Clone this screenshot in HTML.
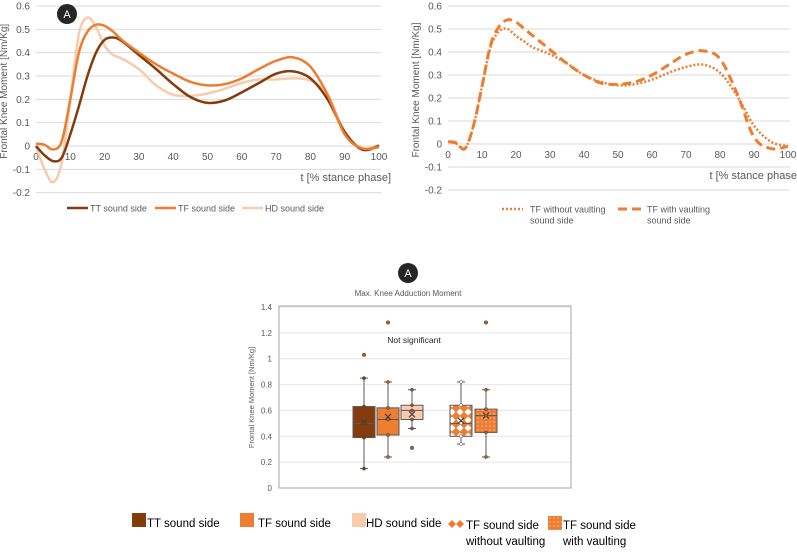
<!DOCTYPE html>
<html><head><meta charset="utf-8"><style>
body{margin:0;background:#fff;width:797px;height:550px;overflow:hidden;font-family:"Liberation Sans",Arial,sans-serif}
svg text{font-family:"Liberation Sans",Arial,sans-serif}
</style></head><body>
<svg id="s" width="797" height="550">
<defs>
<pattern id="diam" width="8" height="8" patternUnits="userSpaceOnUse"><rect width="8" height="8" fill="#ed7d31"/><path d="M4 0.5L7.5 4L4 7.5L0.5 4Z" fill="#fff"/></pattern>
<pattern id="dots" width="4" height="4" patternUnits="userSpaceOnUse"><rect width="4" height="4" fill="#ed7d31"/><circle cx="2" cy="2" r="0.6" fill="#fde"/></pattern>
</defs>
</svg>
<script>
const xs=[0,2.5,5,7.5,10,12.5,15,17.5,20,22.5,25,30,35,40,45,50,55,60,65,70,75,80,85,90,95,100];
const ttVals=[0,-0.04,-0.065,-0.05,0.05,0.17,0.3,0.4,0.455,0.465,0.45,0.39,0.33,0.265,0.21,0.185,0.195,0.23,0.27,0.31,0.32,0.29,0.2,0.06,-0.015,0];
const tfVals=[0.01,0.005,-0.015,0.02,0.2,0.4,0.49,0.52,0.515,0.49,0.455,0.4,0.35,0.31,0.275,0.26,0.265,0.29,0.33,0.365,0.38,0.34,0.22,0.05,-0.01,-0.005];
const hdVals=[0,-0.1,-0.155,-0.07,0.2,0.48,0.55,0.51,0.43,0.39,0.375,0.33,0.26,0.22,0.215,0.225,0.245,0.27,0.285,0.285,0.29,0.28,0.22,0.06,-0.01,0.005];
const woVals=[0.01,0,-0.02,0.08,0.25,0.42,0.49,0.5,0.47,0.445,0.42,0.39,0.35,0.3,0.27,0.255,0.26,0.28,0.31,0.335,0.345,0.31,0.21,0.08,0.01,-0.01];
const wVals=[0.01,0.005,-0.02,0.08,0.25,0.43,0.51,0.54,0.53,0.5,0.47,0.41,0.35,0.3,0.265,0.26,0.27,0.3,0.345,0.39,0.405,0.37,0.22,0.03,-0.02,-0.01];
const yTicks=[0.6,0.5,0.4,0.3,0.2,0.1,0,-0.1,-0.2];
const xTicks=[0,10,20,30,40,50,60,70,80,90,100];
const boxCats=["TT sound side","TF sound side","HD sound side","TF without vaulting","TF with vaulting"];
const boxMin=[0.15,0.24,0.46,0.34,0.24];
const boxQ1=[0.39,0.41,0.53,0.40,0.43];
const boxMed=[0.50,0.53,0.60,0.50,0.56];
const boxQ3=[0.63,0.62,0.64,0.64,0.61];
const boxMax=[0.85,0.82,0.76,0.82,0.76];
const boxMean=[0.51,0.55,0.57,0.52,0.56];
const boxOut=[[1.03],[1.28],[0.31],[],[1.28]];
const boxTicks=[0,0.2,0.4,0.6,0.8,1,1.2,1.4];

const S=document.getElementById('s'),NS="http://www.w3.org/2000/svg";
function mk(t,a,p){const e=document.createElementNS(NS,t);for(const k in a)e.setAttribute(k,a[k]);(p||S).appendChild(e);return e;}
function tx(x,y,s,a){const e=mk('text',Object.assign({x:x,y:y,'font-size':10,fill:'#595959'},a||{}));e.textContent=s;return e;}
function path(pts){let d="M"+pts[0][0]+" "+pts[0][1];for(let i=0;i<pts.length-1;i++){const p0=pts[Math.max(0,i-1)],p1=pts[i],p2=pts[i+1],p3=pts[Math.min(pts.length-1,i+2)];d+=" C"+(p1[0]+(p2[0]-p0[0])/6)+" "+(p1[1]+(p2[1]-p0[1])/6)+" "+(p2[0]-(p3[0]-p1[0])/6)+" "+(p2[1]-(p3[1]-p1[1])/6)+" "+p2[0]+" "+p2[1];}return d;}

function lineChart(name,x0,x1,y06,y0,series){
  const g=mk('g',{});
  const X=v=>x0+(x1-x0)*v/100, Y=v=>y0-(y0-y06)*v/0.6;
  yTicks.forEach(t=>{const l=mk('line',{x1:x0,x2:x1+2,y1:Y(t),y2:Y(t),stroke:'#d9d9d9','stroke-width':1},g);
    const e=tx(x0-6,Y(t)+3.5,String(t),{'text-anchor':'end'});g.appendChild(e);});
  xTicks.forEach(t=>{const e=tx(X(t),y0+14,String(t),{'text-anchor':'middle'});g.appendChild(e);});
  const yt=tx(0,0,'Frontal Knee Moment [Nm/Kg]',{'text-anchor':'middle',transform:`translate(${x0-29},${(Y(0.6)+Y(-0.2))/2-8}) rotate(-90)`});g.appendChild(yt);
  const xt=tx(x1+12,y0+35,'t [% stance phase]',{'text-anchor':'end','font-size':11});g.appendChild(xt);
  series.forEach(s=>{const p=mk('path',Object.assign({d:path(xs.map((x,i)=>[X(x),Y(s.v[i])])),fill:'none',stroke:s.c,'stroke-width':s.w||2.5},s.a||{}),g);});
}
lineChart('chart-sides',36,379,6,146,[
 {v:hdVals,c:'#f8cbad',n:'line-hd-sound-side'},{v:ttVals,c:'#843c0c',n:'line-tt-sound-side'},{v:tfVals,c:'#ed7d31',n:'line-tf-sound-side'}]);
lineChart('chart-vaulting',448,788,6,144,[
 {v:woVals,c:'#ed7d31',n:'line-tf-without-vaulting',w:2.5,a:{'stroke-dasharray':'2 2'}},
 {v:wVals,c:'#ed7d31',n:'line-tf-with-vaulting',w:3,a:{'stroke-dasharray':'9 5'}}]);

// left legend
[['#843c0c','TT sound side',67],['#ed7d31','TF sound side',155],['#f8cbad','HD sound side',242]].forEach(l=>{
  const g=mk('g',{});
  mk('line',{x1:l[2],x2:l[2]+21,y1:208,y2:208,stroke:l[0],'stroke-width':2.5},g);
  g.appendChild(tx(l[2]+23,211.5,l[1],{'font-size':9}));});
// right legend
{const g=mk('g',{});
 mk('line',{x1:502,x2:523,y1:209,y2:209,stroke:'#ed7d31','stroke-width':2.5,'stroke-dasharray':'2 2'},g);
 g.appendChild(tx(530,212.5,'TF without vaulting',{'font-size':9}));g.appendChild(tx(530,223.5,'sound side',{'font-size':9}));
 const h=mk('g',{});
 mk('line',{x1:618,x2:641,y1:209,y2:209,stroke:'#ed7d31','stroke-width':3,'stroke-dasharray':'9 5'},h);
 h.appendChild(tx(647,212.5,'TF with vaulting',{'font-size':9}));h.appendChild(tx(647,223.5,'sound side',{'font-size':9}));}
// A badges
[[67,14],[408,273]].forEach(c=>{const g=mk('g',{});
 mk('circle',{cx:c[0],cy:c[1],r:10,fill:'#262626'},g);g.appendChild(tx(c[0],c[1]+4,'A',{'text-anchor':'middle',fill:'#fff','font-size':11}));});

// box chart
{const bx0=279,bx1=571,by0=488,by14=307;const Y=v=>by0-(by0-by14)*v/1.4;
 const g=mk('g',{});
 const t=tx(408,296,'Max. Knee Adduction Moment',{'text-anchor':'middle','font-size':8});g.appendChild(t);
 boxTicks.forEach(v=>{const l=mk('line',{x1:bx0,x2:bx1,y1:Y(v),y2:Y(v),stroke:'#e6e6e6'},g);
  const e=tx(bx0-7,Y(v)+3,String(v),{'text-anchor':'end','font-size':8});g.appendChild(e);});
 const fr=mk('rect',{x:bx0,y:by14-1,width:bx1-bx0,height:by0-by14+1,fill:'none',stroke:'#a6a6a6','stroke-width':1},g);
 const yt=tx(0,0,'Frontal Knee Moment [Nm/Kg]',{'text-anchor':'middle','font-size':7.5,transform:`translate(254,${(by0+by14)/2}) rotate(-90)`});g.appendChild(yt);
 const ns=tx(414,343,'Not significant',{'text-anchor':'middle','font-size':8.5,fill:'#262626'});g.appendChild(ns);
 const cx=[364,388,412,461,486],fills=['#843c0c','#ed7d31','#f8cbad','url(#diam)','url(#dots)'],dotc=['#843c0c','#c55a11','#a0522d','#fff','#c55a11'];
 boxCats.forEach((c,i)=>{const b=mk('g',{},g);
  mk('line',{x1:cx[i],x2:cx[i],y1:Y(boxMin[i]),y2:Y(boxMax[i]),stroke:'#595959'},b);
  [boxMin[i],boxMax[i]].forEach(v=>mk('line',{x1:cx[i]-4,x2:cx[i]+4,y1:Y(v),y2:Y(v),stroke:'#595959'},b));
  mk('rect',{x:cx[i]-11,y:Y(boxQ3[i]),width:22,height:Y(boxQ1[i])-Y(boxQ3[i]),fill:fills[i],stroke:'#595959'},b);
  mk('line',{x1:cx[i]-11,x2:cx[i]+11,y1:Y(boxMed[i]),y2:Y(boxMed[i]),stroke:'#595959'},b);
  const m=Y(boxMean[i]);mk('path',{d:`M${cx[i]-3} ${m-3}L${cx[i]+3} ${m+3}M${cx[i]+3} ${m-3}L${cx[i]-3} ${m+3}`,stroke:'#404040','stroke-width':1.2},b);
  boxOut[i].forEach(v=>mk('circle',{cx:cx[i],cy:Y(v),r:1.8,fill:'#c55a11',stroke:'#404040','stroke-width':0.5},b));
  [boxMin[i],boxQ1[i],boxMed[i],boxQ3[i],boxMax[i]].forEach(v=>mk('circle',{cx:cx[i],cy:Y(v),r:1.6,fill:dotc[i],stroke:'#404040','stroke-width':0.5},b));});
}
// bottom legend
[[132,'#843c0c','TT sound side',147],[240,'#ed7d31','TF sound side',258],[352,'#f8cbad','HD sound side',366]].forEach(l=>{
 const g=mk('g',{});
 mk('rect',{x:l[0],y:513,width:14,height:14,fill:l[1]},g);g.appendChild(tx(l[3],527,l[2],{'font-size':11.5,fill:'#000'}));});
{const g=mk('g',{});
 mk('path',{d:'M448 524L452 520L456 524L452 528ZM456 524L460 520L464 524L460 528Z',fill:'#ed7d31'},g);
 g.appendChild(tx(466,529,'TF sound side',{'font-size':11.5,fill:'#000'}));g.appendChild(tx(466,545,'without vaulting',{'font-size':11.5,fill:'#000'}));
 const h=mk('g',{});
 mk('rect',{x:548,y:516,width:14,height:14,fill:'url(#dots)'},h);
 h.appendChild(tx(563,529,'TF sound side',{'font-size':11.5,fill:'#000'}));h.appendChild(tx(563,545,'with vaulting',{'font-size':11.5,fill:'#000'}));}
</script>
</body></html>
